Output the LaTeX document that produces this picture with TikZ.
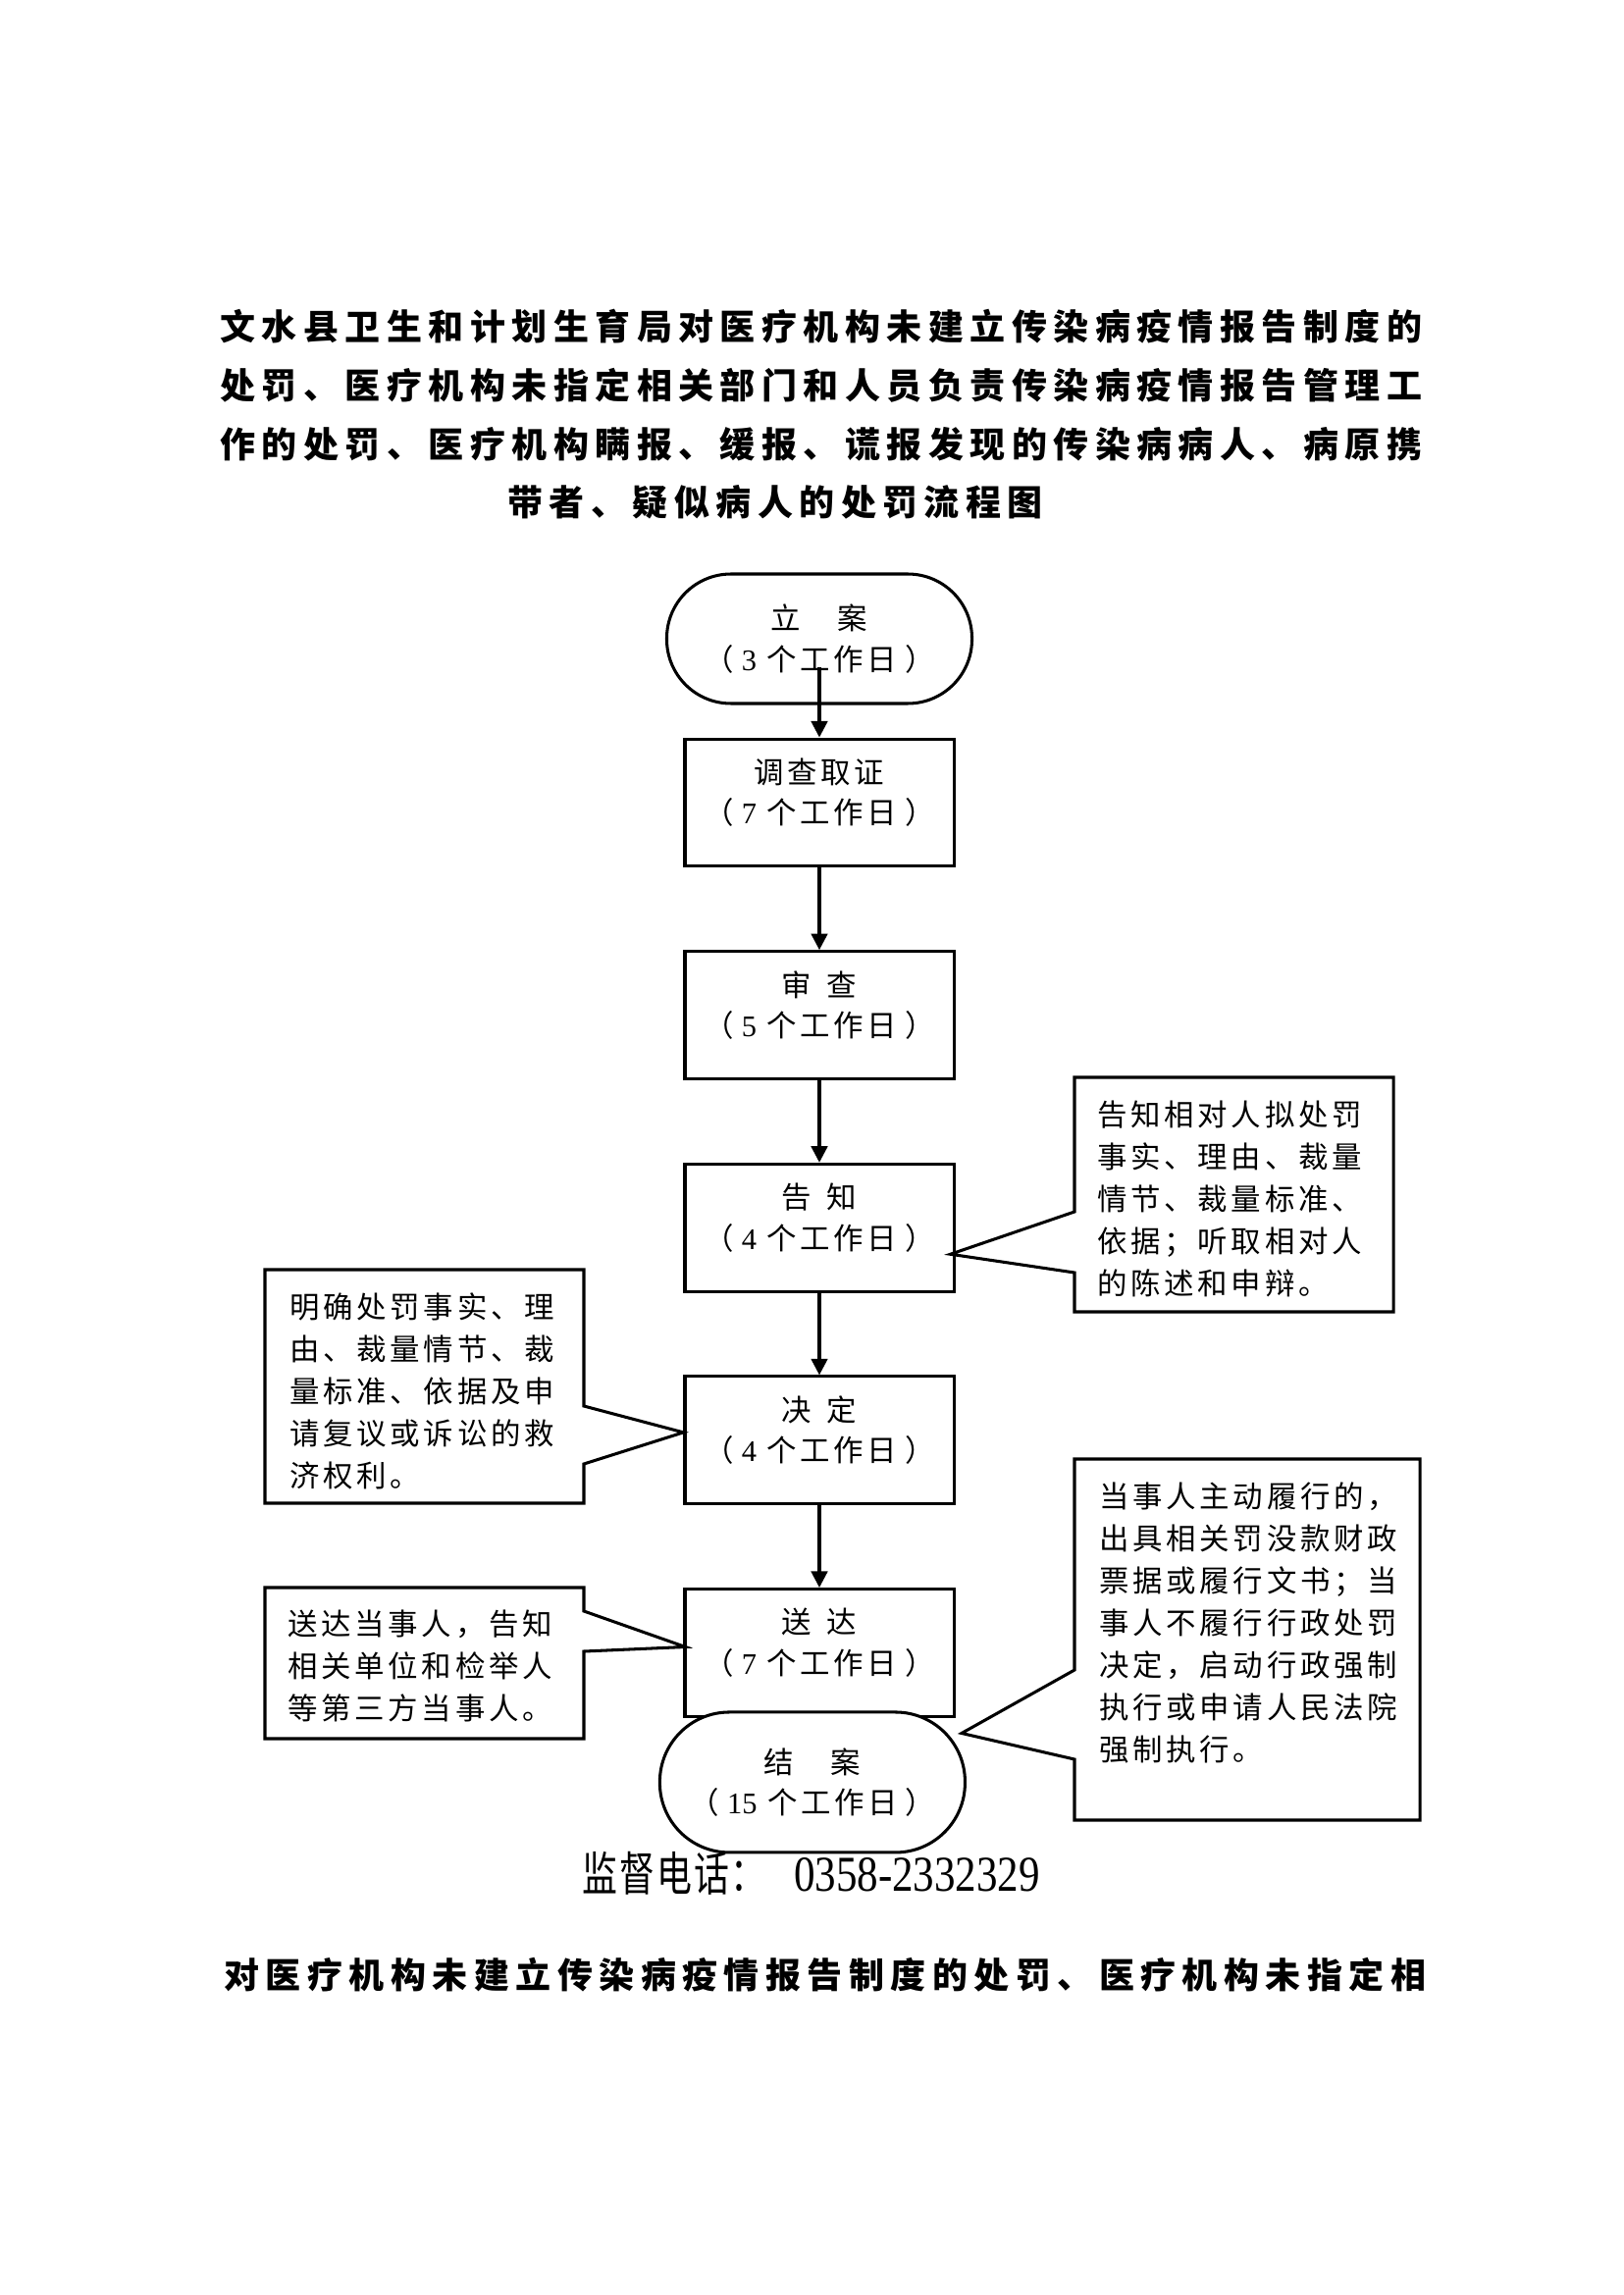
\documentclass[tikz,border=0pt]{standalone}
\usepackage{fontspec}
\setmainfont{Liberation Serif}
\newfontfamily\cjk[LetterSpace=12]{Noto Sans CJK SC}
\newfontfamily\titlecjk[LetterSpace=18]{Noto Sans CJK SC}
\newfontfamily\phonecjk[FakeStretch=0.75,LetterSpace=4]{Noto Sans CJK SC}
\newfontfamily\phonedigits[FakeStretch=0.84]{Liberation Serif}
\usetikzlibrary{arrows.meta}
\usetikzlibrary{positioning}
\usetikzlibrary{calc}
\tikzset{>={Triangle[length=2.1mm,width=2.1mm]}}
\newcommand\stagegap{27.51mm}
\newcommand\dnum[1]{\hspace{1mm}{\rmfamily #1}}
\newcommand\boxfont{\cjk\fontsize{11pt}{15pt}\selectfont}
\newcommand\notefont{\cjk\fontsize{11pt}{15.5pt}\selectfont}
\tikzset{
    flow/.style = {->, line width=1.1pt},
    chart/.style = {draw, line width=1.1pt, align=center, font=\boxfont, node distance=\stagegap, on grid},
    stage/.style = {chart, minimum width=34.8mm, minimum height=16.5mm, text depth=8.5pt},
    terminal/.style = {chart, fill=white, rounded corners=8.3mm, minimum width=39.5mm, minimum height=16.76mm},
    notetext/.style = {align=left, inner sep=0pt, anchor=base west, font=\notefont},
    notebox/.style = {line width=1.1pt, line join=miter},
    titletext/.style = {align=left, inner sep=0pt, anchor=base west, font=\titlecjk\bfseries\fontsize{13pt}{21.6pt}\selectfont},
}

\begin{document}
\begin{tikzpicture}[x=0.127mm, y=-0.127mm]
\useasboundingbox (0,0) rectangle (1654,2339);
% title (anchored at the base of its last line)
\node[titletext] (title) at (224,526) {文水县卫生和计划生育局对医疗机构未建立传染病疫情报告制度的\\处罚、医疗机构未指定相关部门和人员负责传染病疫情报告管理工\\作的处罚、医疗机构瞒报、缓报、谎报发现的传染病病人、病原携\\\hspace*{37.2mm}带者、疑似病人的处罚流程图};

% main chain
\node[terminal] (open) at (835,651) {立　案\\（\dnum{3} 个工作日\hspace{1mm}）};
\node[stage, below=21.21mm of open] (probe) {调查取证\\（\dnum{7} 个工作日\hspace{1mm}）};
\node[stage, below=of probe] (review) {审\enspace 查\\（\dnum{5} 个工作日\hspace{1mm}）};
\node[stage, below=of review] (inform) {告\enspace 知\\（\dnum{4} 个工作日\hspace{1mm}）};
\node[stage, below=of inform] (decide) {决\enspace 定\\（\dnum{4} 个工作日\hspace{1mm}）};
\node[stage, below=of decide] (deliver) {送\enspace 达\\（\dnum{7} 个工作日\hspace{1mm}）};
\node[terminal, below=16.76mm of deliver, xshift=-0.9mm, minimum height=18.16mm, rounded corners=9mm] (close) {结　案\\（\dnum{15} 个工作日\hspace{1mm}）};

\draw[flow] ([yshift=-3.7mm]open.center) -- (probe.north);
\draw[flow] (probe) -- (review);
\draw[flow] (review) -- (inform);
\draw[flow] (inform) -- (decide);
\draw[flow] (decide) -- (deliver);

% notes (anchored at the base of their last line)
\node[notetext] (tellnote) at (1118,1319) {告知相对人拟处罚\\事实、理由、裁量\\情节、裁量标准、\\依据；听取相对人\\的陈述和申辩。};
\node[notetext] (decidenote) at (295,1515) {明确处罚事实、理\\由、裁量情节、裁\\量标准、依据及申\\请复议或诉讼的救\\济权利。};
\node[notetext] (carrynote) at (1120,1794) {当事人主动履行的，\\出具相关罚没款财政\\票据或履行文书；当\\事人不履行行政处罚\\决定，启动行政强制\\执行或申请人民法院\\强制执行。};
\node[notetext] (sendnote) at (293,1752) {送达当事人，告知\\相关单位和检举人\\等第三方当事人。};

\coordinate (tell tip) at ($(inform.east)+(-5,27)$);
\coordinate (decide tip) at ($(decide.west)+(0,-8)$);
\coordinate (send tip) at ($(deliver.west)+(2,-6)$);
\coordinate (carry tip) at ($(close.east)+(-5,-50)$);

\draw[notebox] (1095,1098) -| (1420,1337) -| (1095,1297) -- (tell tip) -- (1095,1235) -- cycle;
\draw[notebox] (270,1294) -| (595,1433) -- (decide tip) -- (595,1492) |- (270,1532) -- cycle;
\draw[notebox] (1095,1487) -| (1447,1855) -| (1095,1793) -- (carry tip) -- (1095,1702) -- cycle;
\draw[notebox] (270,1618) -| (595,1642) -- (send tip) -- (595,1683) |- (270,1772) -- cycle;

% phone and next title
\node[inner sep=0pt, anchor=base west] (phone) at (593,1927) {{\phonecjk\fontsize{17.3pt}{20pt}\selectfont 监督电话：}\hspace{3.6mm}{\phonedigits\fontsize{18.5pt}{20pt}\selectfont 0358-2332329}};
\node[titletext] (subtitle) at (228,2026) {对医疗机构未建立传染病疫情报告制度的处罚、医疗机构未指定相};
\end{tikzpicture}
\end{document}
